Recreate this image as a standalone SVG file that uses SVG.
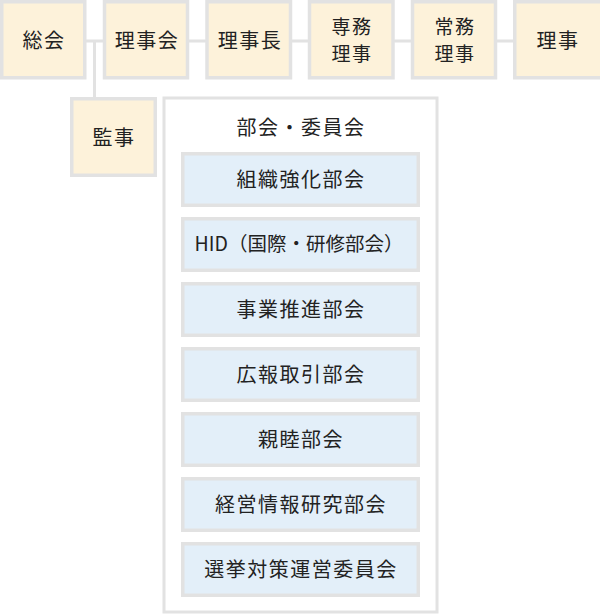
<svg xmlns="http://www.w3.org/2000/svg" width="600" height="616" viewBox="0 0 600 616">
<style>
.top{fill:#fdf2da;stroke:#e2e2e2;stroke-width:3.5}
.grp{fill:#ffffff;stroke:#e2e2e2;stroke-width:3}
.sub{fill:#e3eff9;stroke:#e2e2e2;stroke-width:3.5}
.con{stroke:#e2e2e2;stroke-width:3;fill:none}
text{font-family:"Noto Sans CJK JP","Noto Sans",sans-serif;font-size:20px;fill:#222;text-anchor:middle;letter-spacing:1.5px}
.two{font-size:19px}
</style>
<g id="connectors">
<line class="con" x1="86" y1="41" x2="513" y2="41"/>
<line class="con" x1="94.5" y1="41" x2="94.5" y2="98"/>
</g>
<g id="sokai"><rect class="top" x="1.75" y="1.75" width="83" height="76"/><text x="44" y="48">総会</text></g>
<g id="rijikai"><rect class="top" x="104.5" y="1.75" width="83" height="76"/><text x="147" y="48">理事会</text></g>
<g id="rijicho"><rect class="top" x="207" y="1.75" width="83.5" height="76"/><text x="250" y="48">理事長</text></g>
<g id="senmu"><rect class="top" x="309.5" y="1.75" width="83.5" height="76"/><text class="two" x="352" y="34">専務</text><text class="two" x="352" y="61">理事</text></g>
<g id="jomu"><rect class="top" x="412.5" y="1.75" width="83" height="76"/><text class="two" x="455" y="34">常務</text><text class="two" x="455" y="61">理事</text></g>
<g id="riji"><rect class="top" x="514.75" y="1.75" width="87" height="76"/><text x="558" y="48">理事</text></g>
<g id="kanji"><rect class="top" x="71.75" y="98.75" width="83.5" height="76.5"/><text x="114" y="145">監事</text></g>
<g id="bukai">
<rect class="grp" x="164" y="98" width="273" height="514"/>
<text x="301" y="135">部会・委員会</text>
</g>
<g id="b1"><rect class="sub" x="182.75" y="153.75" width="235.5" height="51.5"/><text x="301" y="187">組織強化部会</text></g>
<g id="b2"><rect class="sub" x="182.75" y="218.75" width="235.5" height="51.5"/><text x="299" y="251" style="font-size:19.5px;letter-spacing:0">HID（国際・研修部会）</text></g>
<g id="b3"><rect class="sub" x="182.75" y="283.75" width="235.5" height="51.5"/><text x="301" y="317">事業推進部会</text></g>
<g id="b4"><rect class="sub" x="182.75" y="348.75" width="235.5" height="51.5"/><text x="301" y="382">広報取引部会</text></g>
<g id="b5"><rect class="sub" x="182.75" y="413.75" width="235.5" height="51.5"/><text x="301" y="447">親睦部会</text></g>
<g id="b6"><rect class="sub" x="182.75" y="478.75" width="235.5" height="51.5"/><text x="301" y="512">経営情報研究部会</text></g>
<g id="b7"><rect class="sub" x="182.75" y="543.75" width="235.5" height="51.5"/><text x="301" y="577">選挙対策運営委員会</text></g>
</svg>
